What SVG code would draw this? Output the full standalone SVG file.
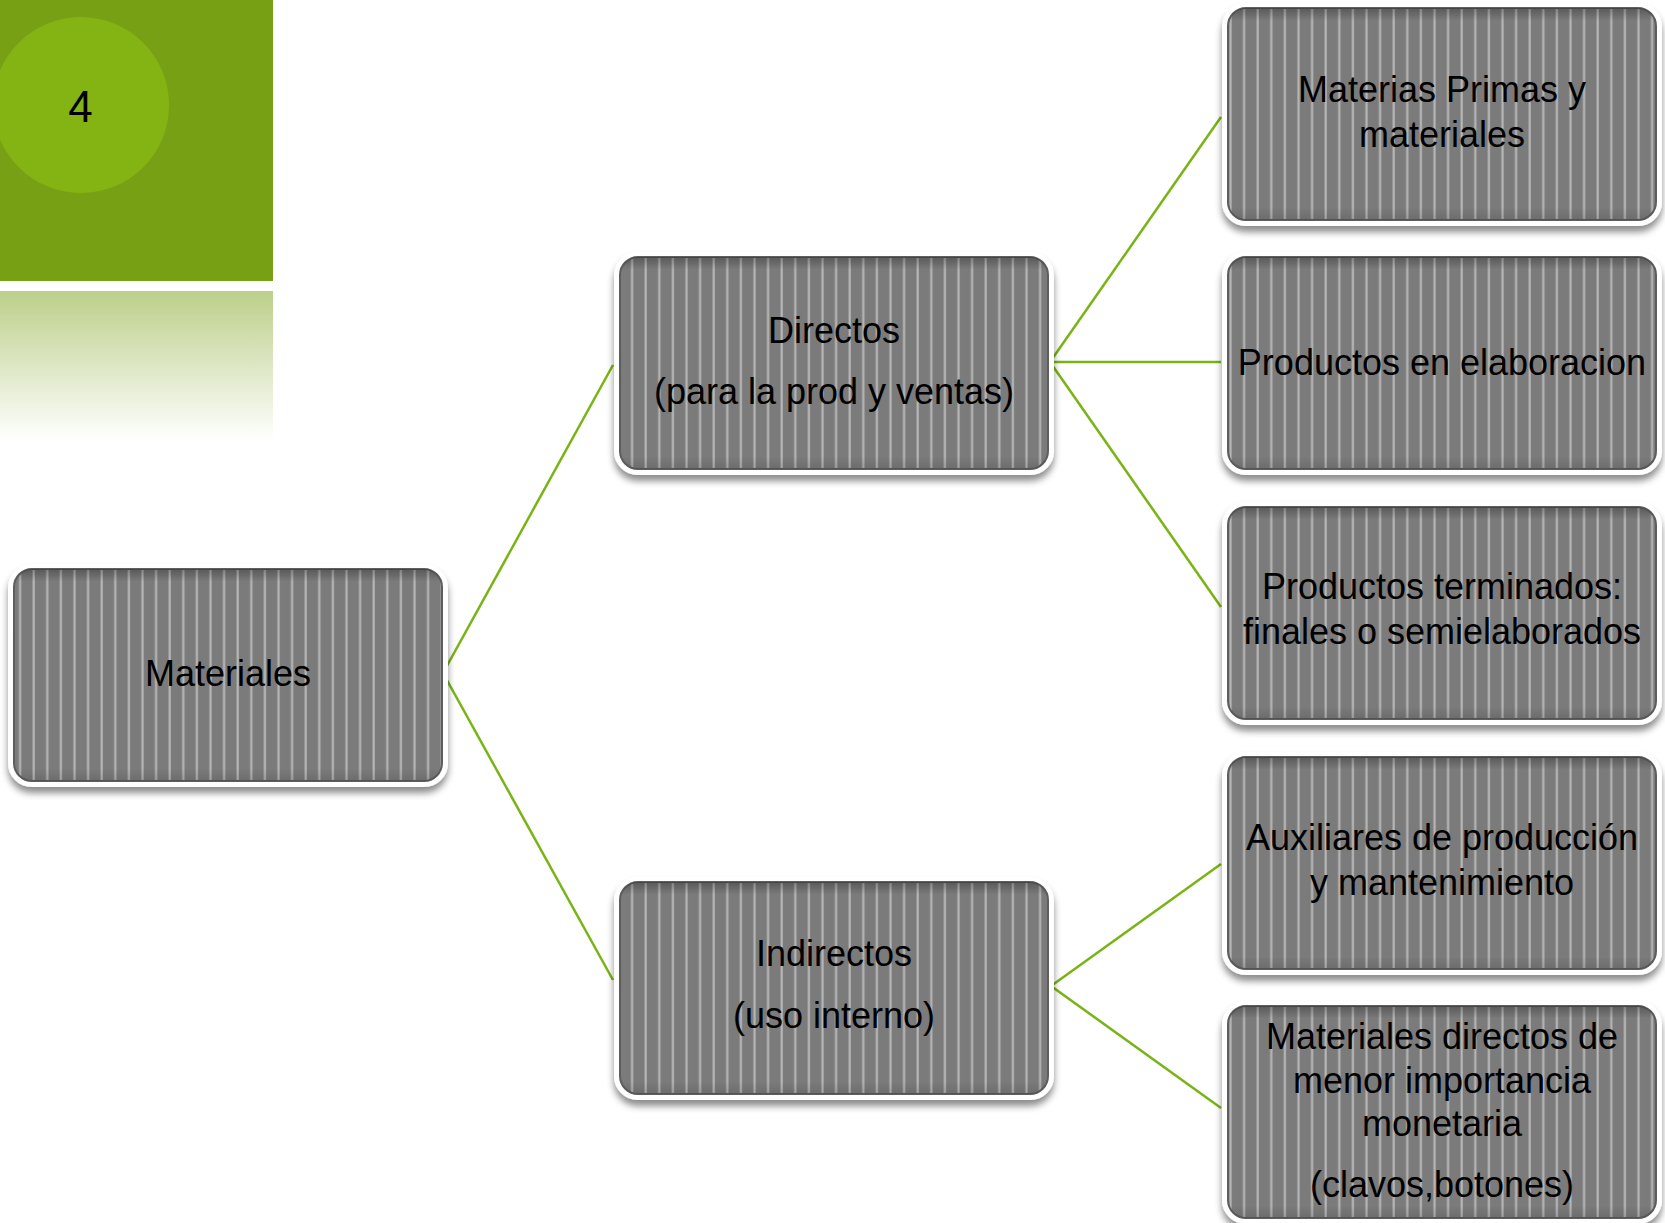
<svg xmlns="http://www.w3.org/2000/svg" width="1665" height="1223" viewBox="0 0 1665 1223">
<defs>
<pattern id="stripes" patternUnits="userSpaceOnUse" x="0" y="0" width="13.6" height="20">
<rect width="13.6" height="20" fill="#7b7b7b"/>
<rect x="5.2" width="2.6" height="20" fill="#a3a3a3"/>
<rect x="5.9" width="1.2" height="20" fill="#b9b9b9"/>
</pattern>
<linearGradient id="fade" x1="0" y1="0" x2="0" y2="1">
<stop offset="0" stop-color="#bccf8a"/>
<stop offset="1" stop-color="#ffffff"/>
</linearGradient>
<linearGradient id="rim" x1="0" y1="0" x2="0" y2="1">
<stop offset="0" stop-color="#000" stop-opacity="0.28"/>
<stop offset="0.06" stop-color="#000" stop-opacity="0"/>
<stop offset="0.94" stop-color="#000" stop-opacity="0"/>
<stop offset="1" stop-color="#000" stop-opacity="0.12"/>
</linearGradient>
<filter id="shadow" x="-10%" y="-10%" width="120%" height="130%">
<feDropShadow dx="0" dy="6" stdDeviation="3.5" flood-color="#000" flood-opacity="0.45"/>
</filter>
</defs>
<style>
.frame{fill:#ffffff;filter:url(#shadow)}
.box{fill:url(#stripes);stroke:#5e5e5e;stroke-width:2}
.rim{fill:url(#rim)}
.t{font-family:"Liberation Sans",Arial,sans-serif;font-size:36px;fill:#000;text-anchor:middle}
.conn{stroke:#78b414;stroke-width:2.5;fill:none}
</style>

<g id="decoration">
<rect x="0" y="0" width="273" height="281" fill="#78a014"/>
<circle cx="81" cy="105" r="88" fill="#84b414"/>
<text x="80.5" y="122" style="font-family:'Liberation Sans',Arial,sans-serif;font-size:44px;fill:#000;text-anchor:middle">4</text>
<rect x="0" y="291" width="273" height="150" fill="url(#fade)"/>
</g>

<g id="connectors">
<path class="conn" d="M443,673 L613,365"/>
<path class="conn" d="M443,673 L613,980"/>
<path class="conn" d="M1050,362 L1221,117"/>
<path class="conn" d="M1050,362 L1221,362"/>
<path class="conn" d="M1050,362 L1221,607"/>
<path class="conn" d="M1051,986 L1221,864"/>
<path class="conn" d="M1051,986 L1221,1108"/>
</g>

<g id="node-materiales">
<rect class="frame" x="8" y="564" width="440" height="223" rx="24"/>
<rect class="box" x="14" y="569" width="428" height="212" rx="18"/>
<rect class="rim" x="14" y="569" width="428" height="212" rx="18"/>
<text class="t" x="228" y="686">Materiales</text>
</g>

<g id="node-directos">
<rect class="frame" x="614" y="252" width="440" height="223" rx="24"/>
<rect class="box" x="620" y="257" width="428" height="212" rx="18"/>
<rect class="rim" x="620" y="257" width="428" height="212" rx="18"/>
<text class="t" x="834" y="343">Directos</text>
<text class="t" x="834" y="404">(para la prod y ventas)</text>
</g>

<g id="node-indirectos">
<rect class="frame" x="614" y="877" width="440" height="223" rx="24"/>
<rect class="box" x="620" y="882" width="428" height="212" rx="18"/>
<rect class="rim" x="620" y="882" width="428" height="212" rx="18"/>
<text class="t" x="834" y="966">Indirectos</text>
<text class="t" x="834" y="1028">(uso interno)</text>
</g>

<g id="node-materias-primas">
<rect class="frame" x="1222" y="3" width="440" height="223" rx="24"/>
<rect class="box" x="1228" y="8" width="428" height="212" rx="18"/>
<rect class="rim" x="1228" y="8" width="428" height="212" rx="18"/>
<text class="t" x="1442" y="102">Materias Primas y</text>
<text class="t" x="1442" y="147">materiales</text>
</g>

<g id="node-productos-elaboracion">
<rect class="frame" x="1222" y="252" width="440" height="223" rx="24"/>
<rect class="box" x="1228" y="257" width="428" height="212" rx="18"/>
<rect class="rim" x="1228" y="257" width="428" height="212" rx="18"/>
<text class="t" x="1442" y="375">Productos en elaboracion</text>
</g>

<g id="node-productos-terminados">
<rect class="frame" x="1222" y="502" width="440" height="223" rx="24"/>
<rect class="box" x="1228" y="507" width="428" height="212" rx="18"/>
<rect class="rim" x="1228" y="507" width="428" height="212" rx="18"/>
<text class="t" x="1442" y="599">Productos terminados:</text>
<text class="t" x="1442" y="644">finales o semielaborados</text>
</g>

<g id="node-auxiliares">
<rect class="frame" x="1222" y="752" width="440" height="223" rx="24"/>
<rect class="box" x="1228" y="757" width="428" height="212" rx="18"/>
<rect class="rim" x="1228" y="757" width="428" height="212" rx="18"/>
<text class="t" x="1442" y="850">Auxiliares de producción</text>
<text class="t" x="1442" y="895">y mantenimiento</text>
</g>

<g id="node-materiales-directos">
<rect class="frame" x="1222" y="1001" width="440" height="223" rx="24"/>
<rect class="box" x="1228" y="1006" width="428" height="212" rx="18"/>
<rect class="rim" x="1228" y="1006" width="428" height="212" rx="18"/>
<text class="t" x="1442" y="1049">Materiales directos de</text>
<text class="t" x="1442" y="1093">menor importancia</text>
<text class="t" x="1442" y="1136">monetaria</text>
<text class="t" x="1442" y="1197">(clavos,botones)</text>
</g>
</svg>
